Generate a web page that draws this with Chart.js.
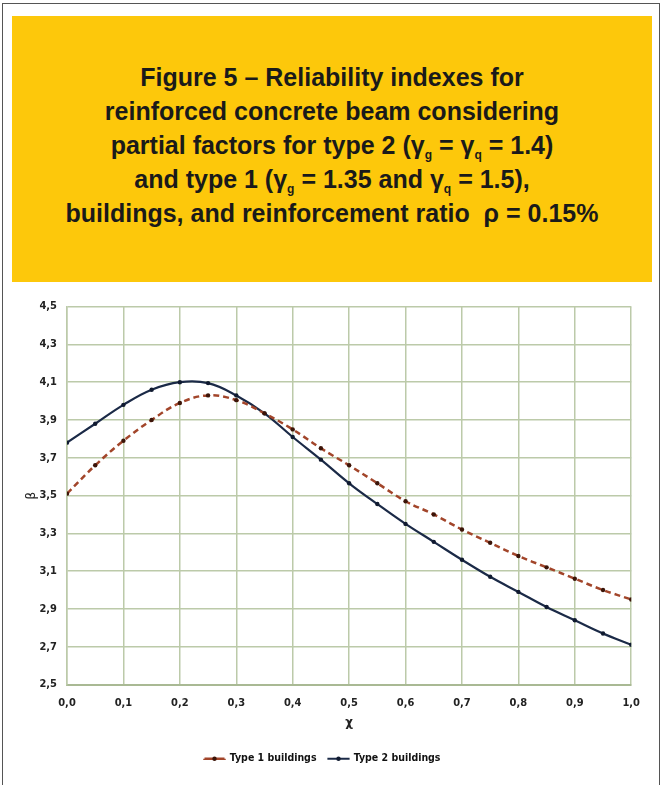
<!DOCTYPE html>
<html>
<head>
<meta charset="utf-8">
<script src="https://cdn.jsdelivr.net/npm/chart.js@4"></script>
<style>
  html, body { margin: 0; padding: 0; background: #fff; }
  #page { position: relative; width: 661px; height: 785px; overflow: hidden; }
  #frame { position: absolute; left: 2px; top: 3px; width: 656px; height: 790px; border: 1.5px solid #555; border-bottom: none; }
  #banner { position: absolute; left: 12px; top: 16px; width: 640px; height: 266px; background: #fdc80b; }
  #title { position: absolute; left: 0; top: 44px; width: 640px; text-align: center;
    font-family: "Liberation Sans", Arial, sans-serif; font-weight: bold; font-size: 25px;
    line-height: 34px; color: #1a1a1a; }
  #title sub { font-size: 12px; line-height: 0; vertical-align: -5px; }
  #wrap { position: absolute; left: 12px; top: 290px; width: 640px; height: 495px; }
</style>
</head>
<body>
<div id="page">
  <div id="frame"></div>
  <div id="banner">
    <div id="title">
      Figure 5 – Reliability indexes for<br>
      reinforced concrete beam considering<br>
      partial factors for type 2 (γ<sub>g</sub> = γ<sub>q</sub> = 1.4)<br>
      and type 1 (γ<sub>g</sub> = 1.35 and γ<sub>q</sub> = 1.5),<br>
      buildings, and reinforcement ratio &nbsp;ρ = 0.15%
    </div>
  </div>
  <div id="wrap"><canvas id="chart"></canvas></div>
</div>
<script>
// chi values (x axis)
const chi = [0.0, 0.05, 0.1, 0.15, 0.2, 0.25, 0.3, 0.35, 0.4, 0.45, 0.5,
             0.55, 0.6, 0.65, 0.7, 0.75, 0.8, 0.85, 0.9, 0.95, 1.0]
// reliability index beta
const type1Beta = [3.51, 3.66, 3.79, 3.90, 3.99, 4.03, 4.005, 3.935, 3.85, 3.75, 3.66,
                   3.565, 3.47, 3.40, 3.32, 3.25, 3.18, 3.12, 3.06, 3.00, 2.95]
const type2Beta = [3.78, 3.88, 3.98, 4.06, 4.10, 4.095, 4.03, 3.935, 3.81, 3.69, 3.565,
                   3.455, 3.35, 3.255, 3.16, 3.07, 2.99, 2.91, 2.84, 2.77, 2.71]
const seriesNames = ['Type 1 buildings', 'Type 2 buildings']

const gridColor = '#bccaa9'
const tickFont = { family: '"Liberation Sans Narrow", "DejaVu Sans Condensed", sans-serif', size: 11, weight: 'bold' }
const legendFont = { family: '"Liberation Sans Narrow", "DejaVu Sans Condensed", sans-serif', size: 10.5, weight: 'bold' }
const markerColors = ['#3b1408', '#101a30']

function toPoints(ys) {
  return chi.map((x, i) => ({ x: x, y: ys[i] }))
}
function comma(v, digits) {
  return Number(v).toFixed(digits).replace('.', ',')
}

// little dots on the legend lines, like the excel markers
const legendDots = {
  id: 'legendDots',
  afterDraw(chart) {
    const boxes = chart.legend.legendHitBoxes
    const ctx = chart.ctx
    boxes.forEach((b, i) => {
      ctx.save()
      ctx.fillStyle = markerColors[i]
      ctx.beginPath()
      ctx.arc(b.left + 10, b.top + b.height / 2, 2.2, 0, Math.PI * 2)
      ctx.fill()
      ctx.restore()
    })
  }
}

new Chart(document.getElementById('chart'), {
  type: 'line',
  data: {
    datasets: [
      {
        label: seriesNames[0],
        data: toPoints(type1Beta),
        borderColor: '#a2452a',
        backgroundColor: 'transparent',
        borderWidth: 2.5,
        borderDash: [6, 4],
        pointRadius: 2.2,
        pointBackgroundColor: markerColors[0],
        pointBorderWidth: 0,
        tension: 0.4
      },
      {
        label: seriesNames[1],
        data: toPoints(type2Beta),
        borderColor: '#1b2a47',
        backgroundColor: 'transparent',
        borderWidth: 2.2,
        pointRadius: 2.2,
        pointBackgroundColor: markerColors[1],
        pointBorderWidth: 0,
        tension: 0.4
      }
    ]
  },
  options: {
    responsive: true,
    maintainAspectRatio: false,
    animation: false,
    layout: { padding: { top: 14, right: 19, bottom: 11, left: 0 } },
    plugins: {
      tooltip: { enabled: false },
      legend: {
        position: 'bottom',
        labels: {
          boxWidth: 20,
          boxHeight: 0.001,
          padding: 12,
          color: '#111',
          font: legendFont
        }
      }
    },
    scales: {
      x: {
        type: 'linear',
        min: 0, max: 1,
        ticks: { stepSize: 0.1, padding: 12, color: '#222', font: tickFont, callback: v => comma(v, 1) },
        grid: { color: gridColor, lineWidth: 1.5, drawTicks: false },
        border: { color: '#a9b994', width: 2 },
        title: { display: true, text: 'χ', color: '#222', font: { family: 'DejaVu Sans', size: 12, weight: 'bold' }, padding: { top: 3, bottom: 11 } },
        afterFit(scale) { scale.height = 57 }
      },
      y: {
        min: 2.5, max: 4.5,
        ticks: { stepSize: 0.2, padding: 10, color: '#222', font: tickFont, callback: v => comma(v, 1) },
        grid: { color: gridColor, lineWidth: 1.5, drawTicks: false },
        border: { color: gridColor, width: 1.5 },
        title: { display: true, text: 'β', color: '#222', font: { family: 'DejaVu Sans', size: 12 }, padding: { top: 13, bottom: 0 } },
        afterFit(scale) { scale.width = 55 }
      }
    }
  },
  plugins: [legendDots]
})
</script>
</body>
</html>
